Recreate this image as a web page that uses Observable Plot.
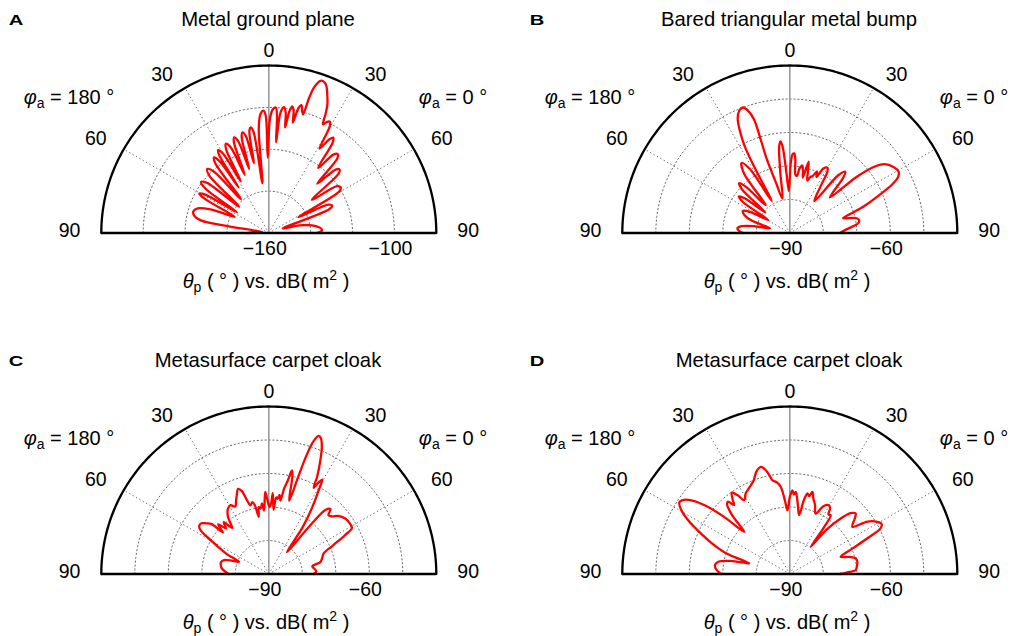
<!DOCTYPE html>
<html><head><meta charset="utf-8">
<script src="https://cdn.jsdelivr.net/npm/d3@7"></script>
<script src="https://cdn.jsdelivr.net/npm/@observablehq/plot@0.6"></script>
<style>
body{margin:0;background:#fff;font-family:"Liberation Sans",Arial,sans-serif;}
#root{position:relative;width:1013px;height:636px;overflow:hidden;background:#fff;}
.panel{position:absolute;width:492px;height:341px;}
.panel svg{position:absolute;left:0;top:0;}
.t{position:absolute;white-space:nowrap;color:#000;line-height:1;transform:translate(-50%,-50%);}
.letter{font-weight:bold;font-size:15.5px;transform:translate(-50%,-50%) scaleX(1.3);}
.title{font-size:20.3px;}
.lab{font-size:20px;}
sub{font-size:70%;vertical-align:-0.25em;line-height:0;}
sup{font-size:70%;vertical-align:0.55em;line-height:0;}
</style></head><body><div id="root"></div><script>
// ---------- data ----------
const panelLetters = ["A", "B", "C", "D"];
const panelTitles = ["Metal ground plane", "Bared triangular metal bump", "Metasurface carpet cloak", "Metasurface carpet cloak"];
const angleTicks = [-90, -60, -30, 0, 30, 60, 90];
const angleTickLabels = ["90", "60", "30", "0", "30", "60", "90"];
const spokeAngles = [-60, -30, 30, 60];
const radialRangeA = [-160, -80];
const ringsA = [-140, -120, -100];
const radialTicksA = [-160, -100];
const radialRangeBCD = [-90, -40];
const ringsBCD = [-80, -70, -60, -50];
const radialTicksBCD = [-90, -60];
const phiLeftLabel = "180";
const phiRightLabel = "0";

const A_theta = [-90,-86,-82,-80.5,-79.5,-77,-74,-71,-68,-64.5,-62,-60.5,-59,-57,-55,-53,-51,-48.5,-46,-44,-42,-39.5,-37.5,-36,-34.5,-33.5,-32.5,-31.5,-30,-28.5,-27,-25.7,-24,-22.5,-21,-19.9,-18.5,-17,-15.8,-14.6,-13.3,-12,-10.8,-9.7,-8.6,-7.3,-5.5,-4,-2.5,-1.5,-0.8,0.5,1.8,3.2,4,4.6,5.6,6.9,8,8.8,9.6,10.5,11.5,12.3,13.3,14.3,15.3,16.1,16.6,17.3,18.8,20.3,21.5,23,24.5,25.5,26.5,27.7,28.8,29.8,31,32.8,34,35.2,37.2,39.5,41,42.5,44.5,46.5,48,49.5,52.5,55.5,57.5,59.5,62,64.5,66.6,68.5,72,76,80,84,87,90];
const A_db = [-150,-154,-157,-138,-127,-123.5,-122.5,-124,-130,-142,-126,-121.8,-124,-142,-123,-119.5,-122,-141,-120.5,-117.6,-120,-139,-118,-115.4,-118,-134,-116,-113.6,-116,-132,-115,-112.7,-115,-130,-113.5,-111.4,-113.5,-128,-112.5,-110.3,-112.5,-126,-110.5,-108.8,-111,-136,-110,-103,-101.5,-104,-124,-106,-101,-100,-104,-116.6,-102,-99.5,-102,-109,-101,-98.5,-100.5,-106,-99,-97,-99.5,-101,-93,-87,-83.2,-83.3,-84.8,-88.5,-92.5,-97,-102,-100,-99.4,-101.5,-113,-107,-105,-107,-121,-111.5,-110,-111.5,-127,-116,-114.6,-116,-134,-120.5,-119.3,-121,-144,-128.5,-127,-129,-153,-145,-139,-135.5,-134.5,-137];

const B_theta = [-90,-87.5,-85,-82,-79,-76.5,-72,-68.5,-65,-62,-59,-56.5,-54.3,-52.5,-50,-47.5,-45.5,-43.5,-41,-37.5,-34.5,-32,-29.5,-28.3,-27.5,-26.3,-24.5,-22.5,-20.5,-18.8,-17.5,-17.3,-17.3,-15.5,-12,-9,-7,-5.8,-4.8,-3.2,-1.3,0.8,2,3.2,4.3,5.5,7.2,8.6,10.5,12,13.2,14.8,16.5,18.5,20.5,21.5,23.9,25.5,27.6,29.9,31.5,33.5,37.6,40,42.1,44,46.5,48.5,50,51.6,54,57.5,60.5,62.5,64.5,67,70.2,72.5,74.5,77,79,81.5,84,87,90];
const B_db = [-76,-74.8,-74.3,-75.5,-79.5,-84,-78,-75.5,-74.5,-76.5,-82.5,-73,-71.3,-73,-80.5,-70.5,-68.8,-71,-79,-67.5,-64.6,-67.5,-79,-68,-61,-56.8,-52.5,-50.5,-50,-51.5,-54.5,-61,-67,-74,-79.5,-72,-64,-62.5,-64,-72,-77.5,-69,-66.5,-66.2,-68,-72.5,-72.8,-70.5,-69.5,-71,-73,-68,-71,-73.5,-72,-71.9,-69.9,-71.5,-68.2,-67.5,-68.5,-73.5,-78,-67.5,-65.3,-67,-72,-74,-64,-58.5,-55,-53.3,-52.7,-53.5,-56,-61,-66.6,-71,-73.5,-70,-69,-69.2,-71,-73.5,-75];

const C_theta = [-90,-87,-83,-79.4,-76,-72.7,-70,-67.7,-64.5,-61.5,-59,-57,-55,-53,-51,-49,-47.8,-45.5,-43.2,-41,-38.5,-35.5,-32,-29,-26.5,-24,-22,-19.8,-18,-16.5,-14.9,-13,-11.5,-10,-8.5,-7,-5.5,-4.3,-2.5,-1,0.5,1.8,2.8,4.3,5.5,6.6,7.8,9,10.2,11.5,12.6,13.6,15.5,16.8,17.6,18.5,19.8,21,22.7,24.5,26.4,27.5,28.5,29.5,31,33,36,39.5,40.5,41.5,43.5,45.5,47.5,50,54,58,61,63,66,69.5,73.5,77,80,84,87,90];
const C_db = [-78,-77,-75.8,-75.4,-75.3,-76,-78.5,-80.4,-76,-72.5,-68.5,-65.5,-64.7,-64.8,-66,-67.2,-71.5,-68.8,-71.3,-69.5,-72.4,-69,-67,-66.5,-67.5,-66,-64.5,-63,-64,-67,-68.8,-68,-69,-72.7,-69.8,-70.3,-68.8,-71,-65.5,-68,-70,-69,-65.8,-70.8,-67,-67.4,-66.2,-67.8,-64,-61.5,-58.3,-60,-67.3,-60,-53,-48.5,-46.2,-46.6,-49,-53,-57.5,-61,-59,-57.6,-61.5,-66,-73,-81.5,-70,-64.5,-63.3,-65,-64.5,-63,-61.8,-61.5,-61.6,-64.5,-69,-72.5,-73.4,-74.2,-76.8,-76.2,-75.8,-76.5];

const D_theta = [-90,-86.5,-83,-80,-77.5,-75.3,-72,-68.5,-65.5,-62,-59.5,-57,-55,-53.2,-51,-49,-47.2,-44.5,-42,-40.5,-39,-37.5,-35.5,-33.5,-31.7,-28.5,-25,-21,-18,-15.1,-13,-11.5,-10.4,-8,-5.9,-3.8,-2.1,0,1.8,3,4.2,6.5,9,10.8,12.4,14,15.4,17.5,20,23.2,26.5,29.7,31.5,33,34.8,36.2,37.6,39.5,42.5,45,47.4,49.5,53,56,59.2,61.5,63.3,65.3,68,71.3,74,76.5,79.7,83,86.5,88.5,90];
const D_db = [-69.5,-68,-67.5,-68.5,-72,-77.5,-70,-65,-60.8,-55.5,-52.4,-50.7,-51.4,-53.3,-57.5,-64,-71.5,-65.5,-62,-61.6,-63.5,-62,-60.2,-61.8,-64.1,-62.5,-61.5,-60,-57.8,-56.9,-58.2,-60.2,-61.6,-62.4,-63.9,-68,-71,-67,-65,-66.3,-65.4,-69,-72.2,-67.5,-65.4,-66,-64.6,-66.5,-68,-70.4,-67.3,-66.4,-67,-68.8,-68.6,-73,-79.7,-73,-67.5,-64.3,-63.3,-64.5,-66.6,-62,-59.6,-58.8,-59.7,-64.6,-70,-74,-71.5,-69.8,-69.5,-69.8,-70.3,-73,-75];

// ---------- drawing ----------
const W = 492, H = 300, CX = 268.3, CY = 232.5, R = 167.5;
const rad = d => d * Math.PI / 180;
const root = document.getElementById("root");

const panels = [
  {theta: A_theta, db: A_db, range: radialRangeA, rings: ringsA, rticks: radialTicksA},
  {theta: B_theta, db: B_db, range: radialRangeBCD, rings: ringsBCD, rticks: radialTicksBCD},
  {theta: C_theta, db: C_db, range: radialRangeBCD, rings: ringsBCD, rticks: radialTicksBCD},
  {theta: D_theta, db: D_db, range: radialRangeBCD, rings: ringsBCD, rticks: radialTicksBCD}
];

panels.forEach((p, i) => {
  const [rMin, rMax] = p.range;
  const u = v => Math.max(0, (v - rMin) / (rMax - rMin));
  const series = p.theta.map((t, k) => ({t, v: p.db[k]}));
  const arcT = d3.range(-90, 90.001, 1);
  const ringArcs = p.rings.flatMap(v => arcT.map(t => ({ring: v, t, r: u(v)})));
  const outerArc = arcT.map(t => ({t, r: 1}));
  const labelPos = a => {
    const ar = Math.abs(a), s = Math.sign(a);
    const lr = 1.09 + 0.1 * Math.sin(rad(ar));
    const la = ar + 3.12 * Math.sin(rad(2 * ar)) + 1.5 * Math.sin(rad(4 * ar));
    return [s * lr * Math.sin(rad(la)), lr * Math.cos(rad(la)) + (ar === 90 ? 0.015 : 0)];
  };
  const tickData = angleTicks.map((a, k) => ({a, label: angleTickLabels[k]}));

  const svg = Plot.plot({
    width: W, height: H, margin: 0,
    x: {domain: [-CX / R, (W - CX) / R], range: [0, W], axis: null},
    y: {domain: [-(H - CY) / R, CY / R], range: [H, 0], axis: null},
    style: {background: "transparent", fontFamily: "Liberation Sans, Arial, sans-serif"},
    marks: [
      Plot.line(ringArcs, {x: d => d.r * Math.sin(rad(d.t)), y: d => d.r * Math.cos(rad(d.t)), z: "ring",
        stroke: "#666", strokeWidth: 1, strokeDasharray: "1.3,2.6"}),
      Plot.link(spokeAngles, {x1: 0, y1: 0, x2: a => Math.sin(rad(a)), y2: a => Math.cos(rad(a)),
        stroke: "#666", strokeWidth: 1, strokeDasharray: "1.3,2.6"}),
      Plot.ruleX([0], {y1: 0, y2: 1, stroke: "#9a9a9a", strokeWidth: 1.6}),
      Plot.line(series, {x: d => u(d.v) * Math.sin(rad(d.t)), y: d => u(d.v) * Math.cos(rad(d.t)),
        stroke: "#ff0000", strokeWidth: 2.3, curve: "catmull-rom", strokeLinejoin: "round"}),
      Plot.line(outerArc, {x: d => d.r * Math.sin(rad(d.t)), y: d => d.r * Math.cos(rad(d.t)),
        stroke: "#000", strokeWidth: 2.3}),
      Plot.ruleY([0], {x1: -1, x2: 1, stroke: "#000", strokeWidth: 2.6}),
      Plot.text(tickData, {x: d => labelPos(d.a)[0], y: d => labelPos(d.a)[1], text: "label",
        fontSize: 19.5, fill: "#000"}),
      Plot.text(p.rticks, {x: v => u(v), y: 0, dy: 16, dx: -4, text: v => "\u2212" + Math.abs(v),
        fontSize: 19.5, fill: "#000"})
    ]
  });

  const div = document.createElement("div");
  div.className = "panel";
  div.style.left = ((i % 2) * 521) + "px";
  div.style.top = (Math.floor(i / 2) * 341) + "px";
  div.appendChild(svg);
  const add = (cls, html, x, y) => {
    const e = document.createElement("div");
    e.className = "t " + cls; e.innerHTML = html;
    e.style.left = x + "px"; e.style.top = y + "px";
    div.appendChild(e);
  };
  add("letter", panelLetters[i], 15.5, 20);
  add("title", panelTitles[i], 268, 19);
  add("lab", `<i>φ</i><sub>a</sub> = ${phiLeftLabel} °`, 69, 97);
  add("lab", `<i>φ</i><sub>a</sub> = ${phiRightLabel} °`, 453, 97);
  add("lab", `<i>θ</i><sub>p</sub> ( ° ) vs. dB( m<sup>2</sup> )`, 266, 281);
  root.appendChild(div);
});
</script></body></html>
